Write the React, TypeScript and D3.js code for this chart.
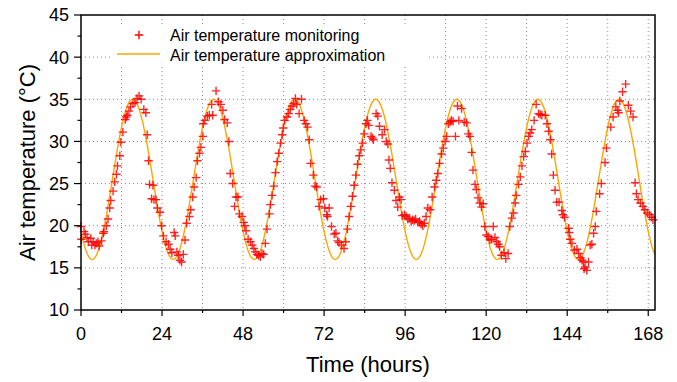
import React from "react";
import * as d3 from "d3";

const hours: number[] = [
  0, 0.1, 0.9, 1.3, 1.8, 2.2, 2.9, 3.2, 3.6, 4.1, 4.5, 5.0, 5.4, 6.1, 6.6, 6.8, 7.5, 8.0, 8.5, 8.8,
  9.5, 10.0, 10.5, 10.8, 11.5, 11.8, 12.4, 13.1, 13.4, 13.7, 14.2, 14.7, 15.4, 16.0, 16.6, 17.2, 17.8, 18.6, 19.2, 19.6,
  20.0, 20.3, 20.9, 21.3, 21.6, 22.2, 22.6, 23.4, 23.9, 24.4, 25.2, 25.9, 26.4, 26.9, 27.6, 27.9, 28.4, 28.8, 29.3, 29.8,
  30.3, 30.8, 31.3, 32.1, 32.5, 33.1, 33.5, 34.1, 34.5, 35.1, 35.5, 36.1, 36.2, 36.7, 37.4, 38.0, 38.7, 39.0, 40.0, 40.7,
  41.4, 42.0, 42.5, 43.3, 43.8, 44.2, 44.9, 45.5, 45.9, 46.5, 46.9, 47.7, 48.2, 48.5, 48.9, 49.5, 50.2, 50.7, 51.2, 51.6,
  52.1, 52.6, 53.1, 53.6, 54.1, 54.6, 55.1, 55.8, 56.1, 56.6, 57.1, 57.6, 58.1, 58.6, 59.1, 59.6, 59.9, 60.3, 61.0, 61.5,
  62.0, 62.5, 63.0, 63.5, 63.9, 64.6, 65.3, 66.1, 66.6, 67.1, 67.6, 68.0, 68.8, 69.3, 69.8, 70.5, 71.0, 71.8, 72.2, 72.8,
  73.0, 73.5, 74.2, 75.0, 75.5, 76.0, 76.4, 77.1, 77.9, 78.4, 78.9, 79.4, 79.9, 80.4, 80.9, 81.4, 81.9, 82.4, 82.9, 83.4,
  83.9, 84.4, 84.8, 85.2, 85.9, 86.3, 86.6, 87.4, 87.9, 88.4, 89.2, 89.9, 90.4, 90.9, 91.2, 91.6, 92.1, 92.8, 93.3, 93.8,
  94.3, 94.8, 95.1, 95.8, 96.3, 96.8, 97.3, 97.8, 98.2, 98.7, 99.1, 99.8, 100.3, 100.7, 101.2, 101.7, 102.2, 102.7, 103.4, 104.0,
  104.7, 105.2, 105.7, 106.2, 106.8, 107.3, 107.8, 108.3, 108.8, 109.3, 109.7, 110.2, 110.9, 111.5, 111.9, 112.7, 113.5, 114.2, 114.7, 115.2,
  115.7, 116.1, 116.7, 117.1, 117.6, 118.1, 118.6, 119.1, 119.6, 120.1, 120.6, 121.1, 121.6, 122.1, 122.6, 123.1, 123.6, 124.0, 124.5, 125.3,
  125.8, 126.5, 127.0, 127.6, 128.1, 128.6, 128.9, 129.6, 130.1, 130.6, 131.1, 131.6, 132.1, 132.6, 133.0, 133.5, 134.2, 134.8, 135.5, 136.0,
  136.5, 137.5, 138.0, 138.5, 139.0, 139.4, 139.9, 140.4, 140.9, 141.6, 142.4, 142.7, 143.2, 144.4, 144.6, 144.9, 145.4, 146.1, 146.9, 147.4,
  147.9, 148.4, 148.8, 149.0, 149.3, 149.8, 150.3, 150.8, 151.3, 151.8, 152.3, 152.6, 153.6, 154.1, 155.2, 155.6, 156.9, 157.6, 158.4, 158.9,
  159.2, 159.6, 160.4, 161.3, 162.1, 162.8, 163.5, 164.1, 164.5, 165.0, 165.7, 166.4, 167.0, 167.7, 168.4, 169.0, 169.4,
];

const temps: number[] = [
  19.9, 18.4, 19.3, 19.0, 18.6, 18.1, 18.5, 17.7, 18.1, 17.7, 17.9, 18.1, 17.6, 18.2, 19.1, 19.3, 20.0, 20.8, 22.1, 23.0,
  24.1, 25.2, 26.1, 27.1, 28.3, 29.9, 31.1, 32.6, 32.9, 33.1, 33.6, 34.1, 34.5, 34.6, 35.1, 35.4, 35.0, 33.8, 33.4, 30.8,
  27.7, 24.9, 23.2, 24.8, 23.1, 23.1, 22.1, 21.6, 20.0, 18.8, 18.1, 17.8, 17.2, 16.8, 19.2, 18.8, 16.9, 16.5, 15.9, 15.7,
  16.6, 18.3, 20.3, 21.1, 21.9, 23.4, 24.6, 25.7, 27.7, 28.6, 29.3, 30.6, 32.1, 32.5, 33.0, 33.1, 34.4, 33.1, 36.0, 34.7,
  34.4, 33.7, 32.6, 32.2, 30.0, 26.2, 25.0, 22.3, 23.4, 23.4, 21.4, 21.1, 20.4, 20.0, 19.4, 18.4, 18.1, 17.7, 17.3, 16.9,
  16.6, 16.5, 16.3, 16.7, 16.6, 17.9, 19.6, 21.4, 22.5, 23.6, 24.7, 26.3, 27.6, 28.6, 29.8, 30.8, 31.6, 32.5, 32.9, 33.3,
  33.8, 34.2, 34.5, 35.1, 34.4, 33.3, 35.0, 32.5, 32.1, 31.7, 30.2, 27.4, 26.0, 24.7, 24.6, 22.3, 23.1, 23.2, 22.1, 21.3,
  21.1, 22.1, 19.9, 19.0, 19.1, 18.2, 18.0, 17.7, 17.3, 18.1, 19.6, 21.1, 22.3, 23.5, 24.8, 26.0, 27.3, 28.3, 29.0, 29.8,
  30.9, 32.1, 32.5, 31.9, 30.6, 30.4, 30.2, 33.3, 33.0, 31.8, 30.8, 31.4, 30.0, 29.7, 27.8, 26.8, 25.1, 24.2, 23.0, 22.2,
  23.4, 23.1, 21.2, 21.3, 21.1, 20.8, 20.9, 20.5, 20.7, 20.6, 20.8, 20.4, 20.5, 20.2, 20.0, 20.3, 21.1, 22.1, 21.9, 23.4,
  24.6, 25.4, 26.2, 27.4, 28.5, 29.2, 30.0, 30.6, 32.1, 32.3, 32.5, 32.4, 30.6, 34.2, 32.5, 33.9, 32.3, 32.2, 30.9, 30.6,
  28.7, 26.6, 24.9, 24.3, 23.3, 22.7, 22.2, 22.6, 19.9, 18.9, 18.7, 18.3, 18.4, 19.9, 18.6, 18.1, 17.8, 17.5, 16.5, 16.8,
  16.1, 16.7, 19.9, 20.9, 21.5, 22.7, 23.6, 24.9, 25.8, 27.1, 28.2, 28.8, 29.8, 30.6, 31.0, 31.4, 32.5, 34.4, 33.3, 33.2,
  33.1, 33.1, 32.1, 31.2, 30.2, 28.5, 26.0, 24.2, 22.8, 22.8, 21.8, 21.3, 21.0, 19.7, 19.2, 18.4, 17.9, 17.1, 17.2, 16.7,
  16.2, 15.9, 15.7, 14.9, 15.1, 14.7, 15.7, 17.7, 17.8, 19.1, 19.9, 21.7, 23.8, 25.0, 27.5, 29.2, 31.7, 32.9, 34.1, 33.7,
  33.4, 34.8, 35.9, 36.8, 34.3, 33.6, 32.9, 25.1, 23.8, 23.1, 22.7, 22.3, 21.9, 21.5, 21.3, 21.0, 20.7,
];

// Sinusoidal approximation parameters
const approxMean = 25.5;
const approxAmplitude = 9.5;
const approxPeriod = 24;
const approxMinHour = 3.3;

const xTicks = [0, 24, 48, 72, 96, 120, 144, 168];
const xMinorTicks = [12, 36, 60, 84, 108, 132, 156];
const yTicks = [10, 15, 20, 25, 30, 35, 40, 45];
const yMinorTicks = [12.5, 17.5, 22.5, 27.5, 32.5, 37.5, 42.5];
const xGrid = [12, 24, 36, 48, 60, 72, 84, 96, 108, 120, 132, 144, 156, 168];
const yGrid = [15, 20, 25, 30, 35, 40];

const legendLabels = ["Air temperature monitoring", "Air temperature approximation"];

const W = 677;
const H = 382;
const L = 81;
const R = 655;
const T = 15;
const B = 310;
const FONT = "'Liberation Sans', Arial, Helvetica, sans-serif";

export default function App() {
  const x = d3.scaleLinear().domain([0, 170]).range([L, R]);
  const y = d3.scaleLinear().domain([10, 45]).range([B, T]);

  const curveT = d3.range(0, 170.001, 0.2);
  const line = d3
    .line<number>()
    .x((t) => x(t))
    .y((t) => y(approxMean - approxAmplitude * Math.cos((2 * Math.PI * (t - approxMinHour)) / approxPeriod)));

  const pts = hours.map((h, i) => [h, temps[i]] as [number, number]);
  const m = 4.2;

  return (
    <svg
      width={W}
      height={H}
      style={{ position: "absolute", left: 0, top: 0, background: "#fff" }}
      fontFamily={FONT}
    >
      <rect x={0} y={0} width={W} height={H} fill="#fff" />
      <defs>
        <clipPath id="plotclip">
          <rect x={L} y={T} width={R - L} height={B - T} />
        </clipPath>
      </defs>
      {/* grid */}
      <g stroke="#8c8c8c" strokeWidth={1} strokeDasharray="1,3">
        {xGrid.map((g) => (
          <line key={"xg" + g} x1={x(g)} x2={x(g)} y1={T} y2={B} />
        ))}
        {yGrid.map((g) => (
          <line key={"yg" + g} x1={L} x2={R} y1={y(g)} y2={y(g)} />
        ))}
      </g>
      {/* legend background */}
      <rect x={112} y={27} width={317} height={38} fill="#fff" />
      {/* approximation curve */}
      <path
        d={line(curveT) || ""}
        fill="none"
        stroke="#ffa500"
        strokeWidth={1.4}
        clipPath="url(#plotclip)"
      />
      {/* monitoring points */}
      <g stroke="#ff0000" strokeWidth={1.4} strokeOpacity={0.85}>
        {pts.map(([h, v], i) => (
          <path
            key={i}
            d={`M${x(h) - m},${y(v)}H${x(h) + m}M${x(h)},${y(v) - m}V${y(v) + m}`}
          />
        ))}
      </g>
      {/* frame */}
      <rect x={L} y={T} width={R - L} height={B - T} fill="none" stroke="#000" strokeWidth={1.5} />
      {/* y ticks */}
      <g stroke="#000" strokeWidth={1.2}>
        {yTicks.map((t) => (
          <line key={"yt" + t} x1={L - 7} x2={L} y1={y(t)} y2={y(t)} />
        ))}
        {yMinorTicks.map((t) => (
          <line key={"ym" + t} x1={L - 3.5} x2={L} y1={y(t)} y2={y(t)} />
        ))}
        {xTicks.map((t) => (
          <line key={"xt" + t} x1={x(t)} x2={x(t)} y1={B} y2={B + 6} />
        ))}
        {xMinorTicks.map((t) => (
          <line key={"xm" + t} x1={x(t)} x2={x(t)} y1={B} y2={B + 3} />
        ))}
      </g>
      <g fontSize={18} fill="#000">
        {yTicks.map((t) => (
          <text key={"yl" + t} x={L - 12} y={y(t)} dy="0.36em" textAnchor="end">
            {t}
          </text>
        ))}
        {xTicks.map((t) => (
          <text key={"xl" + t} x={x(t)} y={B + 29.5} textAnchor="middle">
            {t}
          </text>
        ))}
      </g>
      {/* axis titles */}
      <text x={(L + R) / 2} y={372} textAnchor="middle" fontSize={22} fill="#000">
        Time (hours)
      </text>
      <text
        transform={`translate(35,${(T + B) / 2}) rotate(-90)`}
        textAnchor="middle"
        fontSize={22}
        fill="#000"
      >
        Air temperature (°C)
      </text>
      {/* legend */}
      <g>
        <path
          d={`M${139 - m},35H${139 + m}M139,${35 - m}V${35 + m}`}
          stroke="#ff0000"
          strokeWidth={1.4}
        />
        <line x1={117} x2={160} y1={54} y2={54} stroke="#ffa500" strokeWidth={1.4} />
        <text x={170} y={40.5} fontSize={16} fill="#000">
          {legendLabels[0]}
        </text>
        <text x={170} y={60.5} fontSize={16} fill="#000">
          {legendLabels[1]}
        </text>
      </g>
    </svg>
  );
}
